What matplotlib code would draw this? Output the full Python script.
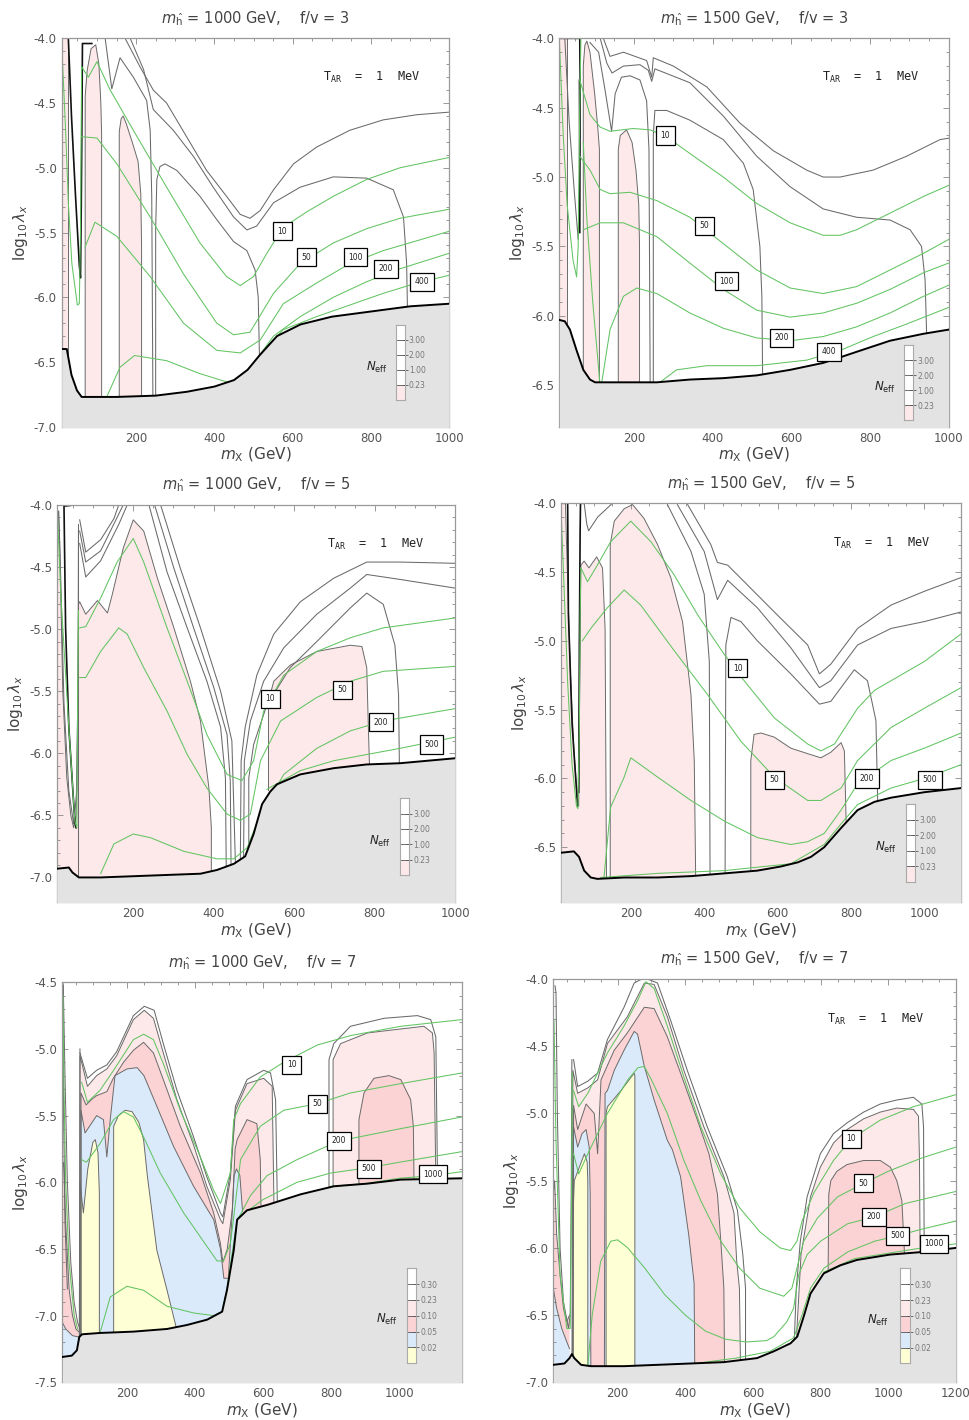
"""Six-panel N_eff / lifetime contour figure (m_X vs log10 lambda_X)."""
import matplotlib
matplotlib.use('Agg')
import numpy as np
import matplotlib.pyplot as plt
from matplotlib.ticker import MultipleLocator, FixedLocator, FuncFormatter

GREY_LINE = '#6a6a6a'
GREEN = '#62c462'
EXCL = '#e3e3e3'
C_LP = '#fde9e9'   # light pink
C_SP = '#fbd3d5'   # strong pink
C_BL = '#dbeafb'   # light blue
C_YL = '#ffffd6'   # yellow
TXT = '#555555'

# ---------------- panel 1 : m_h = 1000, f/v = 3 ----------------
P1_BOUND = [(10, -6.40), (23, -6.40), (35, -6.60), (49, -6.72), (61, -6.77), (150, -6.77),
            (250, -6.76), (330, -6.73), (400, -6.69), (450, -6.64), (485, -6.56), (515, -6.45),
            (560, -6.30), (620, -6.21), (700, -6.15), (800, -6.11), (900, -6.07), (1000, -6.05)]
P1_LP_A = [(10, -4.0), (27, -4.0), (27, -6.5)]
P1_LP_B = [(70, -6.8), (70, -4.45), (75, -4.25), (85, -4.08), (97, -4.05), (105, -4.2),
           (110, -4.5), (112, -4.75), (112, -6.8)]
P1_LP_C = [(157, -6.8), (157, -4.72), (162, -4.62), (167, -4.6), (175, -4.66), (190, -4.8),
           (205, -4.95), (212, -5.2), (214, -5.6), (214, -6.8)]
P1_G1 = [(121, -4.0), (138, -4.39), (159, -4.15), (193, -4.30), (227, -4.48), (236, -4.71),
         (240, -5.22), (243, -6.8)]
P1_G2 = [(250, -6.8), (250, -5.48), (253, -5.09), (261, -4.99), (274, -4.97), (304, -5.02),
         (363, -5.22), (406, -5.40), (449, -5.57), (483, -5.64), (504, -5.79), (512, -6.00),
         (515, -6.45)]
P1_G3 = [(172, -4.0), (210, -4.22), (244, -4.40), (278, -4.50), (329, -4.76), (380, -5.02),
         (431, -5.22), (466, -5.36), (491, -5.39), (517, -5.33), (551, -5.17), (602, -4.97),
         (661, -4.84), (746, -4.71), (831, -4.63), (917, -4.59), (1000, -4.57)]
P1_G4 = [(185, -4.0), (219, -4.24), (244, -4.55), (295, -4.71), (346, -4.91), (397, -5.15),
         (449, -5.38), (483, -5.48), (508, -5.45), (551, -5.27), (619, -5.15), (704, -5.07),
         (789, -5.08), (857, -5.17), (883, -5.38), (891, -5.74), (893, -6.07)]
P1_BLK = [(27, -4.0), (35, -4.6), (45, -5.2), (55, -5.75), (58, -5.85), (60, -5.3), (62, -4.5),
          (63, -4.04), (87, -4.04)]
P1_GR_L = [(10, -4.04), (20, -4.71), (27, -5.27), (36, -5.74), (50, -6.06), (55, -6.05),
           (58, -5.5), (60, -4.6), (61, -4.22)]
P1_GR10 = [(61, -4.22), (78, -4.30), (100, -4.18), (134, -4.40), (193, -4.71), (278, -5.15),
           (363, -5.58), (431, -5.84), (466, -5.91), (500, -5.84), (534, -5.66), (576, -5.46),
           (636, -5.34), (704, -5.22), (789, -5.09), (874, -5.00), (1000, -4.92)]
P1_GR50 = [(61, -4.76), (100, -4.77), (151, -4.97), (236, -5.38), (321, -5.82), (406, -6.20),
           (449, -6.29), (491, -6.27), (551, -5.97), (619, -5.74), (704, -5.58), (789, -5.47),
           (874, -5.39), (1000, -5.32)]
P1_GR100 = [(70, -5.61), (95, -5.42), (151, -5.53), (236, -5.84), (321, -6.20), (406, -6.41),
            (466, -6.43), (517, -6.33), (576, -6.05), (661, -5.89), (746, -5.74), (831, -5.64),
            (1000, -5.49)]
P1_GR200 = [(125, -6.77), (159, -6.54), (196, -6.45), (278, -6.49), (363, -6.59), (449, -6.67),
            (500, -6.51), (551, -6.30), (619, -6.15), (704, -6.0), (789, -5.88), (874, -5.78),
            (1000, -5.66)]
P1_GR400 = [(525, -6.41), (576, -6.25), (661, -6.15), (746, -6.06), (831, -5.97), (917, -5.89),
            (1000, -5.83)]
P1_LABELS = [(574, -5.49, '10'), (635, -5.69, '50'), (760, -5.69, '100'), (838, -5.78, '200'),
             (930, -5.88, '400')]

# ---------------- panel 2 : m_h = 1500, f/v = 3 ----------------
P2_BOUND = [(10, -6.03), (24, -6.04), (37, -6.10), (54, -6.25), (71, -6.39), (88, -6.46),
            (101, -6.48), (173, -6.48), (258, -6.48), (342, -6.46), (427, -6.45), (512, -6.43),
            (597, -6.39), (681, -6.34), (724, -6.30), (766, -6.26), (851, -6.18), (936, -6.13),
            (1000, -6.10)]
P2_LP_A = [(10, -4.0), (29, -4.0), (29, -6.1)]
P2_LP_B = [(71, -6.8), (71, -4.2), (75, -4.05), (80, -4.02), (88, -4.1), (100, -4.4),
           (108, -4.65), (112, -4.8), (112, -6.8)]
P2_LP_C = [(160, -6.8), (160, -4.8), (165, -4.7), (181, -4.66), (195, -4.75), (205, -4.95),
           (212, -5.2), (214, -5.5), (214, -6.8)]
P2_G1 = [(88, -4.03), (110, -4.1), (125, -4.35), (143, -4.67), (152, -4.4), (168, -4.28),
         (190, -4.27), (215, -4.3), (232, -4.45), (238, -4.8), (241, -6.48)]
P2_G2 = [(249, -6.48), (249, -4.7), (253, -4.52), (283, -4.52), (342, -4.59), (427, -4.73),
         (478, -4.90), (503, -5.09), (520, -5.50), (525, -5.86), (527, -6.44)]
P2_G3 = [(114, -4.0), (131, -4.18), (144, -4.25), (173, -4.20), (215, -4.19), (236, -4.23),
         (245, -4.31), (253, -4.22), (342, -4.32), (427, -4.56), (512, -4.85), (597, -5.07),
         (681, -5.23), (766, -5.29), (851, -5.31), (902, -5.38), (931, -5.50), (940, -5.74),
         (944, -6.13)]
P2_G4 = [(122, -4.0), (139, -4.13), (173, -4.10), (232, -4.16), (245, -4.28), (249, -4.14),
         (300, -4.20), (385, -4.35), (469, -4.61), (554, -4.81), (639, -4.95), (681, -5.0),
         (724, -5.0), (808, -4.95), (893, -4.85), (978, -4.73), (1000, -4.72)]
P2_G5 = [(24, -4.0), (35, -4.6), (48, -5.1), (58, -5.45), (61, -5.0), (60, -4.3)]
P2_BLK = [(12, -4.0), (62, -4.0), (63, -4.3), (62, -5.4)]
P2_GR_L = [(10, -4.0), (20, -4.7), (30, -5.2), (45, -5.6), (54, -5.72), (58, -5.5), (62, -4.5),
           (65, -4.0)]
P2_GR_L2 = [(71, -4.75), (80, -5.3), (95, -5.9), (113, -6.48)]
P2_GR10 = [(62, -4.3), (88, -4.55), (114, -4.64), (139, -4.67), (198, -4.65), (241, -4.66),
           (283, -4.71), (342, -4.83), (427, -5.0), (512, -5.19), (597, -5.33), (681, -5.42),
           (724, -5.42), (766, -5.38), (851, -5.26), (936, -5.14), (1000, -5.06)]
P2_GR50 = [(62, -4.85), (88, -4.95), (114, -5.09), (139, -5.12), (190, -5.11), (258, -5.17),
           (342, -5.29), (427, -5.48), (512, -5.67), (597, -5.80), (681, -5.84), (766, -5.79),
           (851, -5.67), (936, -5.55), (1000, -5.45)]
P2_GR100 = [(71, -5.38), (88, -5.36), (114, -5.33), (173, -5.33), (258, -5.43), (342, -5.62),
            (427, -5.81), (512, -5.96), (597, -6.01), (681, -5.98), (766, -5.91), (851, -5.81),
            (936, -5.69), (1000, -5.62)]
P2_GR200 = [(118, -6.48), (139, -6.10), (173, -5.86), (207, -5.80), (258, -5.84), (342, -5.98),
            (427, -6.09), (512, -6.16), (597, -6.18), (681, -6.15), (766, -6.08), (851, -5.98),
            (936, -5.86), (1000, -5.78)]
P2_GR400 = [(266, -6.48), (308, -6.39), (385, -6.36), (512, -6.36), (639, -6.32), (724, -6.25),
            (808, -6.15), (893, -6.06), (1000, -5.94)]
P2_LABELS = [(280, -4.70, '10'), (379, -5.35, '50'), (435, -5.75, '100'), (575, -6.16, '200'),
             (695, -6.26, '400')]

# ---------------- panel 3 : m_h = 1000, f/v = 5 ----------------
P3_BOUND = [(10, -6.93), (40, -6.92), (49, -6.96), (65, -7.0), (119, -7.0), (202, -6.99),
            (284, -6.98), (367, -6.97), (408, -6.94), (450, -6.89), (478, -6.83), (499, -6.65),
            (520, -6.41), (540, -6.31), (557, -6.25), (615, -6.17), (698, -6.12), (780, -6.09),
            (863, -6.08), (1000, -6.04)]
P3_LP_A = [(10, -4.1), (14, -4.05), (18, -4.4), (25, -5.5), (35, -6.2), (45, -6.5), (52, -6.6),
           (58, -6.5), (62, -5.6), (64, -4.8), (67, -4.78), (82, -4.88), (111, -4.77),
           (136, -4.87), (148, -4.72), (175, -4.35), (200, -4.12), (226, -4.21), (260, -4.59),
           (301, -4.99), (342, -5.42), (367, -5.74), (388, -6.28), (394, -6.60), (394, -7.0)]
P3_LP_B = [(536, -6.3), (536, -5.58), (549, -5.42), (590, -5.29), (656, -5.18), (739, -5.13),
           (768, -5.14), (780, -5.31), (784, -5.79), (787, -6.12)]
P3_L1 = [(239, -4.0), (284, -4.54), (334, -4.99), (383, -5.42), (417, -5.79), (429, -6.20),
         (431, -6.93)]
P3_L2 = [(253, -4.0), (301, -4.51), (350, -4.99), (400, -5.47), (433, -5.85), (441, -6.22),
         (443, -6.92)]
P3_L3 = [(268, -4.0), (317, -4.51), (367, -4.99), (417, -5.50), (445, -5.90), (454, -6.91)]
P3_R1 = [(466, -6.88), (468, -6.06), (478, -5.79), (507, -5.37), (549, -5.04), (615, -4.78),
         (698, -4.59), (780, -4.46), (863, -4.46), (1000, -4.47)]
P3_R2 = [(474, -6.86), (476, -6.06), (491, -5.74), (524, -5.42), (574, -5.15), (656, -4.88),
         (739, -4.67), (780, -4.56), (863, -4.60), (1000, -4.67)]
P3_R3 = [(487, -6.84), (487, -6.20), (499, -5.93), (532, -5.61), (590, -5.31), (656, -5.10),
         (739, -4.83), (780, -4.71), (821, -4.80), (850, -5.13), (859, -5.53), (861, -6.08)]
P3_T1 = [(67, -4.12), (82, -4.38), (119, -4.28), (152, -4.11), (164, -4.0)]
P3_T2 = [(67, -4.21), (82, -4.46), (119, -4.37), (160, -4.1), (175, -4.0)]
P3_T3 = [(67, -4.31), (82, -4.58), (119, -4.45), (165, -4.15), (185, -4.0)]
P3_V = [(15, -4.05), (20, -4.6), (28, -5.6), (40, -6.3), (52, -6.57), (60, -6.3), (63, -5.5),
        (64, -4.2)]
P3_BLK = [(53, -4.0), (28, -4.01), (32, -4.99), (40, -5.79), (50, -6.3), (55, -6.55),
          (58, -6.6)]
P3_EDGE = [(63, -4.15), (63, -7.0)]
P3_GR_L = [(12, -4.08), (20, -4.72), (40, -5.79), (55, -6.55), (60, -6.6), (62, -5.5),
           (64, -4.85)]
P3_GR10 = [(67, -4.99), (82, -4.98), (119, -4.75), (160, -4.46), (200, -4.27), (226, -4.46),
           (284, -4.99), (334, -5.42), (383, -5.85), (433, -6.17), (470, -6.22), (499, -6.06),
           (524, -5.66), (574, -5.37), (656, -5.18), (739, -5.07), (821, -4.99), (1000, -4.91)]
P3_GR50 = [(67, -5.39), (82, -5.39), (119, -5.18), (164, -4.99), (185, -5.04), (226, -5.31),
           (284, -5.66), (334, -6.01), (383, -6.28), (433, -6.49), (466, -6.54), (491, -6.49),
           (516, -6.06), (566, -5.74), (656, -5.55), (739, -5.42), (821, -5.34), (1000, -5.30)]
P3_GR200 = [(119, -6.97), (152, -6.73), (200, -6.65), (243, -6.68), (326, -6.79), (408, -6.85),
            (450, -6.85), (483, -6.76), (516, -6.49), (574, -6.17), (656, -5.96), (739, -5.82),
            (821, -5.74), (1000, -5.64)]
P3_GR500 = [(532, -6.29), (615, -6.14), (698, -6.06), (780, -6.01), (863, -5.96), (1000, -5.87)]
P3_LABELS = [(540, -5.56, '10'), (720, -5.49, '50'), (816, -5.75, '200'), (941, -5.93, '500')]

# ---------------- panel 4 : m_h = 1500, f/v = 5 ----------------
P4_BOUND = [(10, -6.54), (45, -6.53), (59, -6.57), (73, -6.67), (91, -6.72), (109, -6.73),
            (182, -6.72), (273, -6.72), (364, -6.71), (455, -6.69), (545, -6.67), (609, -6.64),
            (655, -6.61), (691, -6.57), (727, -6.50), (773, -6.36), (818, -6.23), (864, -6.17),
            (909, -6.14), (1000, -6.10), (1100, -6.07)]
P4_LP_A = [(10, -4.0), (22, -4.0), (25, -4.3), (35, -5.2), (45, -5.8), (55, -6.15), (58, -6.2),
           (62, -5.0), (64, -4.45), (73, -4.42), (86, -4.47), (107, -4.39), (123, -4.47),
           (130, -4.91), (134, -6.8)]
P4_LP_B = [(144, -6.8), (144, -4.30), (155, -4.13), (182, -4.04), (205, -4.01), (236, -4.11),
           (273, -4.30), (309, -4.54), (341, -4.86), (364, -5.39), (373, -5.87), (377, -6.75)]
P4_LP_C = [(527, -6.75), (527, -5.87), (536, -5.68), (555, -5.67), (591, -5.70), (636, -5.78),
           (682, -5.82), (718, -5.85), (745, -5.81), (773, -5.74), (782, -5.80), (786, -6.23),
           (789, -6.54)]
P4_G1 = [(355, -4.01), (418, -4.30), (436, -4.43), (464, -4.45), (509, -4.57), (591, -4.79),
         (682, -5.03), (714, -5.24), (745, -5.17), (818, -4.91), (909, -4.74), (1000, -4.64),
         (1100, -4.54)]
P4_G2 = [(327, -4.01), (400, -4.35), (436, -4.70), (464, -4.56), (545, -4.76), (636, -5.05),
         (714, -5.34), (745, -5.29), (818, -5.03), (909, -4.91), (1000, -4.86), (1100, -4.79)]
P4_G3 = [(457, -6.69), (459, -5.03), (473, -4.83), (500, -4.86), (545, -5.0), (636, -5.24),
         (714, -5.46), (745, -5.44), (809, -5.21), (845, -5.29), (868, -5.58), (873, -6.19)]
P4_G4 = [(300, -4.01), (364, -4.35), (400, -4.66), (414, -5.15), (416, -6.71)]
P4_G5 = [(73, -4.0), (80, -4.15), (85, -4.2), (110, -4.1), (150, -4.0)]
P4_BLK = [(12, -4.0), (28, -4.0), (30, -4.8), (40, -5.6), (50, -6.0), (55, -6.2)]
P4_BLK2 = [(58, -6.1), (60, -5.0), (62, -4.2), (63, -4.0), (73, -4.0)]
P4_GR_L = [(10, -4.05), (18, -4.6), (28, -5.3), (40, -5.9), (52, -6.2), (56, -6.22), (60, -5.6),
           (62, -4.8), (64, -4.47)]
P4_GR10 = [(64, -4.47), (82, -4.57), (109, -4.45), (145, -4.28), (200, -4.13), (255, -4.28),
           (318, -4.52), (382, -4.81), (455, -5.10), (509, -5.29), (591, -5.56), (682, -5.75),
           (718, -5.80), (755, -5.75), (818, -5.49), (864, -5.36), (909, -5.29), (1000, -5.15),
           (1100, -4.95)]
P4_GR50 = [(68, -5.0), (91, -4.91), (136, -4.76), (182, -4.63), (227, -4.74), (318, -5.07),
           (409, -5.39), (500, -5.73), (591, -5.99), (682, -6.16), (718, -6.16), (773, -6.07),
           (818, -5.87), (909, -5.63), (1000, -5.49), (1100, -5.34)]
P4_GR200 = [(127, -6.72), (145, -6.21), (182, -5.99), (200, -5.85), (273, -5.99), (364, -6.16),
            (455, -6.31), (545, -6.43), (636, -6.48), (682, -6.46), (727, -6.40), (773, -6.23),
            (818, -6.04), (909, -5.87), (1000, -5.78), (1100, -5.67)]
P4_GR500 = [(118, -6.72), (273, -6.69), (455, -6.67), (636, -6.62), (727, -6.48), (773, -6.33),
            (818, -6.19), (909, -6.07), (1000, -6.0), (1100, -5.90)]
P4_LABELS = [(491, -5.20, '10'), (591, -6.01, '50'), (843, -6.0, '200'), (1015, -6.01, '500')]

# ---------------- panel 5 : m_h = 1000, f/v = 7 ----------------
P5_BOUND = [(10, -7.31), (38, -7.30), (53, -7.26), (60, -7.16), (68, -7.14), (121, -7.13),
            (219, -7.12), (318, -7.10), (377, -7.07), (436, -7.03), (480, -6.97), (494, -6.81),
            (514, -6.51), (524, -6.28), (553, -6.21), (612, -6.17), (711, -6.09), (808, -6.03),
            (907, -6.01), (1005, -5.98), (1185, -5.97)]
P5_LP_L = [(10, -4.55), (13, -4.52), (18, -5.2), (25, -6.0), (35, -6.6), (45, -6.9), (55, -7.05),
           (62, -7.1)]
P5_SP_L = [(10, -5.9), (14, -5.85), (20, -6.3), (30, -6.8), (40, -7.0), (50, -7.1), (58, -7.12)]
P5_BL_L = [(10, -7.05), (20, -7.1), (40, -7.15), (58, -7.16)]
P5_LP = [(62, -7.2), (62, -5.05), (65, -5.08), (84, -5.28), (111, -5.2), (141, -5.15),
         (170, -5.05), (219, -4.78), (251, -4.71), (278, -4.77), (307, -5.03), (347, -5.38),
         (396, -5.72), (435, -6.03), (475, -6.28), (482, -6.31), (504, -5.98), (519, -5.46),
         (553, -5.26), (602, -5.22), (627, -5.28), (632, -6.13), (632, -6.2)]
P5_LP_R = [(806, -6.07), (806, -5.08), (828, -4.96), (907, -4.88), (1005, -4.85), (1073, -4.83),
           (1098, -4.88), (1103, -5.03), (1108, -5.97)]
P5_SP = [(65, -7.2), (65, -5.33), (80, -5.42), (100, -5.37), (111, -5.35), (141, -5.32),
         (160, -5.22), (190, -5.1), (219, -5.01), (249, -4.95), (278, -5.03), (307, -5.23),
         (357, -5.58), (416, -5.93), (455, -6.23), (475, -6.46), (482, -6.6), (495, -6.5),
         (510, -6.2), (518, -5.75), (524, -5.68), (553, -5.53), (582, -5.56), (592, -5.83),
         (594, -6.17)]
P5_SP_R = [(882, -6.06), (882, -5.53), (897, -5.33), (926, -5.22), (970, -5.20), (1005, -5.23),
           (1034, -5.38), (1042, -5.58), (1044, -6.01)]
P5_BL = [(65, -7.2), (65, -5.46), (77, -5.63), (111, -5.50), (131, -5.53), (141, -5.81),
         (151, -5.53), (165, -5.2), (200, -5.15), (230, -5.14), (250, -5.2), (288, -5.43),
         (337, -5.73), (396, -6.03), (455, -6.28), (475, -6.5), (485, -6.72), (498, -6.72),
         (508, -6.3), (515, -5.95), (522, -5.9), (532, -5.95), (540, -6.22)]
P5_YL = [(62, -7.2), (62, -6.0), (72, -6.23), (85, -5.9), (100, -5.7), (107, -5.68), (115, -5.78),
         (119, -6.08), (119, -7.2)]
P5_YL2 = [(161, -7.2), (161, -5.58), (175, -5.5), (195, -5.46), (215, -5.47), (235, -5.55),
          (249, -5.68), (260, -5.95), (269, -6.13), (288, -6.51), (318, -6.81), (347, -7.11)]
P5_O30 = [(62, -5.03), (84, -5.22), (111, -5.16), (141, -5.12), (170, -5.02), (219, -4.75),
          (251, -4.68), (280, -4.71), (307, -4.96), (347, -5.31), (396, -5.66), (435, -5.96),
          (475, -6.23), (482, -6.26), (504, -5.93), (519, -5.43), (553, -5.23), (602, -5.16),
          (622, -5.18), (637, -5.38), (642, -6.13), (642, -6.19)]
P5_O30_R = [(794, -6.06), (794, -5.08), (808, -4.96), (857, -4.83), (956, -4.77), (1054, -4.75),
            (1093, -4.78), (1108, -4.91), (1113, -5.98)]
P5_SPIKE = [(12, -4.5), (14, -5.5), (18, -6.3), (25, -6.8)]
P5_EDGE = [(62, -5.0), (61, -6.5), (60, -7.16)]
P5_GR_L = [(12, -4.6), (15, -5.3), (20, -6.0), (30, -6.6), (45, -7.0), (55, -7.1)]
P5_GR10 = [(67, -5.25), (84, -5.40), (121, -5.31), (161, -5.16), (219, -4.93), (249, -4.89),
           (278, -4.93), (307, -5.11), (357, -5.46), (416, -5.81), (455, -6.06), (475, -6.16),
           (504, -5.93), (514, -5.53), (534, -5.41), (592, -5.21), (661, -5.10), (760, -4.97),
           (857, -4.90), (1005, -4.83), (1185, -4.78)]
P5_GR50 = [(67, -5.83), (81, -5.85), (121, -5.71), (161, -5.53), (190, -5.47), (219, -5.51),
           (249, -5.66), (298, -5.93), (367, -6.23), (416, -6.41), (465, -6.59), (484, -6.59),
           (504, -6.46), (514, -6.26), (534, -5.83), (592, -5.58), (661, -5.46), (760, -5.41),
           (857, -5.33), (1005, -5.26), (1185, -5.18)]
P5_GR200 = [(121, -7.13), (151, -6.86), (200, -6.78), (249, -6.81), (318, -6.93), (396, -6.98),
            (455, -7.0), (480, -6.97), (494, -6.8), (514, -6.45), (524, -6.28), (534, -6.24),
            (563, -6.1), (612, -5.95), (700, -5.83), (823, -5.69), (1000, -5.6), (1185, -5.51)]
P5_GR500 = [(530, -6.26), (600, -6.13), (700, -6.0), (800, -5.93), (912, -5.89), (1000, -5.85),
            (1185, -5.77)]
P5_GR1000 = [(800, -6.03), (900, -6.01), (1000, -5.97), (1100, -5.95), (1185, -5.92)]
P5_LABELS = [(684, -5.12, '10'), (760, -5.41, '50'), (823, -5.69, '200'), (912, -5.90, '500'),
             (1100, -5.94, '1000')]

# ---------------- panel 6 : m_h = 1500, f/v = 7 ----------------
P6_BOUND = [(10, -6.87), (43, -6.86), (58, -6.82), (65, -6.79), (72, -6.82), (92, -6.87),
            (121, -6.88), (220, -6.88), (318, -6.87), (416, -6.86), (514, -6.85), (612, -6.82),
            (661, -6.77), (711, -6.71), (731, -6.66), (750, -6.51), (770, -6.34), (809, -6.19),
            (858, -6.13), (907, -6.09), (1005, -6.05), (1104, -6.03), (1200, -6.0)]
P6_SP_L = [(10, -5.6), (14, -5.5), (20, -5.9), (30, -6.2), (40, -6.45), (50, -6.55), (58, -6.5)]
P6_BL_L = [(10, -6.3), (20, -6.45), (35, -6.6), (50, -6.7), (58, -6.75)]
P6_LP = [(65, -6.9), (68, -4.68), (82, -4.85), (112, -4.81), (141, -4.75), (170, -4.48),
         (229, -4.28), (279, -4.03), (308, -4.04), (347, -4.28), (396, -4.68), (455, -5.10),
         (514, -5.47), (544, -5.74), (552, -6.1), (560, -6.3), (563, -6.85)]
P6_LP_R = [(727, -6.9), (730, -6.6), (742, -6.05), (755, -5.85), (770, -5.62), (799, -5.40),
           (838, -5.22), (878, -5.12), (927, -5.04), (976, -4.99), (1025, -4.96), (1074, -4.97),
           (1089, -5.02), (1092, -5.35), (1094, -6.1)]
P6_SP = [(68, -6.9), (70, -4.94), (82, -5.12), (107, -4.93), (131, -5.0), (141, -5.30),
         (151, -4.75), (190, -4.53), (229, -4.40), (279, -4.21), (308, -4.22), (347, -4.43),
         (386, -4.70), (436, -5.05), (470, -5.3), (495, -5.6), (505, -5.95), (514, -6.3),
         (516, -6.88)]
P6_SP_R = [(822, -6.2), (824, -5.6), (830, -5.5), (848, -5.43), (878, -5.38), (927, -5.35),
           (976, -5.35), (1006, -5.40), (1025, -5.5), (1040, -5.65), (1048, -6.06)]
P6_BL_A = [(68, -6.9), (70, -5.1), (82, -5.25), (95, -5.15), (107, -5.12), (116, -5.25),
           (119, -5.6), (121, -6.9)]
P6_BL_B = [(161, -6.9), (163, -4.85), (170, -4.83), (190, -4.68), (219, -4.53), (249, -4.39),
           (259, -4.41), (279, -4.65), (308, -4.90), (347, -5.20), (362, -5.27), (386, -5.47),
           (410, -5.9), (426, -6.26), (428, -6.88)]
P6_YL = [(68, -6.9), (68, -5.8), (72, -5.5), (90, -5.38), (102, -5.30), (110, -5.36), (112, -5.5),
         (112, -6.9)]
P6_YL2 = [(166, -6.9), (166, -5.0), (170, -4.95), (210, -4.83), (249, -4.70), (251, -4.72),
          (251, -6.9)]
P6_O30 = [(70, -4.60), (82, -4.80), (112, -4.76), (141, -4.70), (170, -4.45), (219, -4.21),
          (249, -4.03), (279, -3.99), (318, -4.03), (357, -4.31), (406, -4.68), (465, -5.10),
          (524, -5.47), (554, -5.72), (570, -6.05), (578, -6.3), (578, -6.83)]
P6_O30_R = [(722, -6.7), (728, -6.3), (740, -5.95), (760, -5.62), (799, -5.30), (838, -5.15),
            (878, -5.07), (927, -4.99), (976, -4.93), (1025, -4.90), (1074, -4.88), (1099, -4.93),
            (1104, -5.10), (1106, -6.03)]
P6_V = [(15, -4.05), (18, -4.1), (22, -5.0), (30, -6.0), (40, -6.4), (55, -6.6), (60, -6.5),
        (63, -5.6), (65, -4.6)]
P6_GR_L = [(12, -4.3), (18, -5.2), (30, -6.2), (50, -6.6), (60, -6.6), (64, -5.6), (66, -4.7)]
P6_GR10 = [(70, -4.83), (85, -4.95), (112, -4.85), (170, -4.55), (219, -4.35), (259, -4.16),
           (284, -4.02), (308, -4.07), (347, -4.35), (396, -4.73), (446, -5.10), (505, -5.45),
           (560, -5.7), (620, -5.88), (680, -6.0), (711, -6.02), (730, -5.95), (745, -5.80),
           (780, -5.59), (838, -5.35), (890, -5.19), (976, -5.05), (1074, -4.95), (1200, -4.86)]
P6_GR50 = [(70, -5.3), (85, -5.45), (112, -5.3), (170, -5.0), (230, -4.75), (260, -4.66),
           (279, -4.65), (300, -4.75), (347, -5.0), (396, -5.35), (446, -5.65), (505, -5.95),
           (560, -6.15), (620, -6.3), (691, -6.36), (715, -6.3), (735, -6.1), (750, -5.95),
           (790, -5.78), (850, -5.62), (927, -5.52), (1000, -5.43), (1100, -5.33), (1200, -5.25)]
P6_GR200 = [(112, -6.88), (125, -6.5), (150, -6.1), (180, -5.95), (200, -5.94), (230, -6.0),
            (280, -6.15), (340, -6.35), (400, -6.5), (460, -6.62), (520, -6.68), (580, -6.7),
            (640, -6.69), (662, -6.66), (700, -6.55), (720, -6.45), (735, -6.2), (760, -6.05),
            (800, -5.95), (880, -5.82), (958, -5.77), (1050, -5.67), (1200, -5.58)]
P6_GR500 = [(430, -6.86), (550, -6.82), (650, -6.77), (720, -6.67), (745, -6.5), (770, -6.3),
            (810, -6.15), (880, -6.03), (960, -5.95), (1027, -5.91), (1100, -5.86), (1200, -5.80)]
P6_GR1000 = [(809, -6.18), (900, -6.08), (1000, -6.04), (1100, -6.0), (1200, -5.97)]
P6_LABELS = [(890, -5.19, '10'), (927, -5.52, '50'), (958, -5.77, '200'), (1027, -5.91, '500'),
             (1135, -5.97, '1000')]

# legend (N_eff bar) levels, bottom to top
LEG_COLORS_A = [C_LP, 'white', 'white', 'white', 'white']
LEG_LABELS_A = ['0.23', '1.00', '2.00', '3.00']
LEG_COLORS_B = [C_YL, C_BL, C_SP, C_LP, 'white', 'white']
LEG_LABELS_B = ['0.02', '0.05', '0.10', '0.23', '0.30']

# panel frame: [left, bottom, width, height] in figure fraction, x/y limits, title
PANELS = [
    dict(rect=[0.0636, 0.6995, 0.3996, 0.2735], xlim=(10, 1000), ylim=(-7.0, -4.0),
         mh=1000, fv=3, bound=P1_BOUND,
         fills=[(P1_LP_A, C_LP), (P1_LP_B, C_LP), (P1_LP_C, C_LP)],
         grey=[P1_G1, P1_G2, P1_G3, P1_G4], black=[P1_BLK],
         green=[P1_GR_L, P1_GR10, P1_GR50, P1_GR100, P1_GR200, P1_GR400],
         labels=P1_LABELS, tar=True, leg=(LEG_COLORS_A, LEG_LABELS_A),
         leg_rect=[0.862, 0.069, 0.023, 0.193], neff=(0.812, 0.152)),
    dict(rect=[0.5766, 0.6995, 0.4014, 0.2735], xlim=(10, 1000), ylim=(-6.8, -4.0),
         mh=1500, fv=3, bound=P2_BOUND,
         fills=[(P2_LP_A, C_LP), (P2_LP_B, C_LP), (P2_LP_C, C_LP)],
         grey=[P2_G1, P2_G2, P2_G3, P2_G4, P2_G5], black=[P2_BLK],
         green=[P2_GR_L, P2_GR_L2, P2_GR10, P2_GR50, P2_GR100, P2_GR200, P2_GR400],
         labels=P2_LABELS, tar=True, leg=(LEG_COLORS_A, LEG_LABELS_A),
         leg_rect=[0.886, 0.017, 0.023, 0.193], neff=(0.836, 0.10)),
    dict(rect=[0.0585, 0.3646, 0.4109, 0.2798], xlim=(10, 1000), ylim=(-7.2, -4.0),
         mh=1000, fv=5, bound=P3_BOUND,
         fills=[(P3_LP_A, C_LP), (P3_LP_B, C_LP)],
         grey=[P3_L1, P3_L2, P3_L3, P3_R1, P3_R2, P3_R3, P3_T1, P3_T2, P3_T3, P3_V, P3_EDGE],
         black=[P3_BLK],
         green=[P3_GR_L, P3_GR10, P3_GR50, P3_GR200, P3_GR500],
         labels=P3_LABELS, tar=True, leg=(LEG_COLORS_A, LEG_LABELS_A),
         leg_rect=[0.861, 0.069, 0.023, 0.193], neff=(0.811, 0.153)),
    dict(rect=[0.5784, 0.3646, 0.4124, 0.2810], xlim=(10, 1100), ylim=(-6.9, -4.0),
         mh=1500, fv=5, bound=P4_BOUND,
         fills=[(P4_LP_A, C_LP), (P4_LP_B, C_LP), (P4_LP_C, C_LP)],
         grey=[P4_G1, P4_G2, P4_G3, P4_G4, P4_G5], black=[P4_BLK, P4_BLK2],
         green=[P4_GR_L, P4_GR10, P4_GR50, P4_GR200, P4_GR500],
         labels=P4_LABELS, tar=True, leg=(LEG_COLORS_A, LEG_LABELS_A),
         leg_rect=[0.862, 0.052, 0.023, 0.194], neff=(0.8125, 0.137)),
    dict(rect=[0.0642, 0.02655, 0.4121, 0.2817], xlim=(10, 1185), ylim=(-7.5, -4.5),
         mh=1000, fv=7, bound=P5_BOUND,
         fills=[(P5_LP_L, C_LP), (P5_SP_L, C_SP), (P5_BL_L, C_BL),
                (P5_LP, C_LP), (P5_LP_R, C_LP), (P5_SP, C_SP), (P5_SP_R, C_SP),
                (P5_BL, C_BL), (P5_YL, C_YL), (P5_YL2, C_YL)],
         grey=[P5_O30, P5_O30_R, P5_SPIKE, P5_EDGE], black=[],
         green=[P5_GR_L, P5_GR10, P5_GR50, P5_GR200, P5_GR500, P5_GR1000],
         labels=P5_LABELS, tar=False, leg=(LEG_COLORS_B, LEG_LABELS_B),
         leg_rect=[0.863, 0.0475, 0.023, 0.2375], neff=(0.811, 0.156)),
    dict(rect=[0.5704, 0.02655, 0.4152, 0.2840], xlim=(10, 1200), ylim=(-7.0, -4.0),
         mh=1500, fv=7, bound=P6_BOUND,
         fills=[(P6_SP_L, C_SP), (P6_BL_L, C_BL),
                (P6_LP, C_LP), (P6_LP_R, C_LP), (P6_SP, C_SP), (P6_SP_R, C_SP),
                (P6_BL_A, C_BL), (P6_BL_B, C_BL), (P6_YL, C_YL), (P6_YL2, C_YL)],
         grey=[P6_O30, P6_O30_R, P6_V], black=[],
         green=[P6_GR_L, P6_GR10, P6_GR50, P6_GR200, P6_GR500, P6_GR1000],
         labels=P6_LABELS, tar=True, leg=(LEG_COLORS_B, LEG_LABELS_B),
         leg_rect=[0.861, 0.047, 0.025, 0.2355], neff=(0.807, 0.153)),
]


def xy(pts):
    return [p[0] for p in pts], [p[1] for p in pts]


def neff_bar(ax, rect, colors, labels, pos):
    ins = ax.inset_axes(rect)
    n = len(colors)
    for i, c in enumerate(colors):
        ins.axhspan(i, i + 1, color=c, lw=0)
    for h in range(1, n):
        ins.axhline(h, color='#555555', lw=0.6)
    ins.set_xlim(0, 1)
    ins.set_ylim(0, n)
    ins.set_xticks([])
    ins.yaxis.tick_right()
    ins.set_yticks(range(1, n))
    ins.set_yticklabels(labels, fontsize=5.5, color='#777777')
    ins.tick_params(axis='y', direction='inout', length=4, width=0.6, color='#555555', pad=1)
    for s in ins.spines.values():
        s.set_color('#aaaaaa')
        s.set_linewidth(0.8)
    ax.text(pos[0], pos[1], r'$N_{\rm eff}$', transform=ax.transAxes, fontsize=8.5,
            color='#222222', ha='center', va='center', zorder=8)


fig = plt.figure(figsize=(9.7, 14.2), dpi=100)

for p in PANELS:
    ax = fig.add_axes(p['rect'])
    x0, x1 = p['xlim']
    y0, y1 = p['ylim']

    for pts, col in p['fills']:
        xs, ys = xy(pts)
        ax.fill(xs + [xs[-1], xs[0]], ys + [y0, y0], color=col, lw=0, zorder=1)
        ax.plot(xs, ys, color=GREY_LINE, lw=0.7, zorder=2)
    for pts in p['grey']:
        xs, ys = xy(pts)
        ax.plot(xs, ys, color=GREY_LINE, lw=0.75, zorder=2)
    for pts in p['black']:
        xs, ys = xy(pts)
        ax.plot(xs, ys, color='#111111', lw=1.2, zorder=2.2)
    for pts in p['green']:
        xs, ys = xy(pts)
        ax.plot(xs, ys, color=GREEN, lw=0.75, zorder=2.5)

    bx, by = xy(p['bound'])
    ax.fill_between(bx, by, y0 - 1, color=EXCL, lw=0, zorder=3)
    ax.plot(bx, by, color='black', lw=1.4, zorder=3.5)

    for lx, ly, s in p['labels']:
        ax.text(lx, ly, s, fontsize=5.5, ha='center', va='center', color='#222222', zorder=6,
                bbox=dict(boxstyle='square,pad=0.6', fc='white', ec='black', lw=0.9))

    if p['tar']:
        ax.text(0.80, 0.90, r'T$_{\mathtt{AR}}$  =  1  MeV', transform=ax.transAxes,
                fontsize=8.5, family='DejaVu Sans Mono', ha='center', va='center',
                color='#222222', zorder=6)

    neff_bar(ax, p['leg_rect'], p['leg'][0], p['leg'][1], p['neff'])

    ax.set_xlim(x0, x1)
    ax.set_ylim(y0, y1)
    ax.xaxis.set_major_locator(MultipleLocator(200))
    ax.xaxis.set_minor_locator(MultipleLocator(50))
    yt = np.arange(np.ceil(y0 / 0.5 - 1e-9) * 0.5, y1 + 0.01, 0.5)
    ax.yaxis.set_major_locator(FixedLocator(yt))
    ax.yaxis.set_minor_locator(MultipleLocator(0.1))
    ax.yaxis.set_major_formatter(FuncFormatter(lambda v, _: f"-{abs(v):.1f}"))
    ax.tick_params(which='both', direction='in', top=True, right=True, colors='#888888',
                   labelcolor=TXT, labelsize=8.5, width=0.6)
    ax.tick_params(which='major', length=4)
    ax.tick_params(which='minor', length=2)
    for s in ax.spines.values():
        s.set_color('#999999')
        s.set_linewidth(0.9)

    ax.set_xlabel(r'$m_{\mathrm{X}}$ (GeV)', fontsize=11, color='#444444', labelpad=1)
    ax.set_ylabel(r'$\mathrm{log}_{10}\,\lambda_{x}$', fontsize=11, color='#444444',
                  labelpad=3)
    ax.text(0.5, 1.05, rf'$m_{{\hat{{\mathrm{{h}}}}}}$ = {p["mh"]} GeV,    f/v = {p["fv"]}',
            transform=ax.transAxes, fontsize=10.5, color='#444444', ha='center', va='center')

fig.savefig('out.png', dpi=100)
